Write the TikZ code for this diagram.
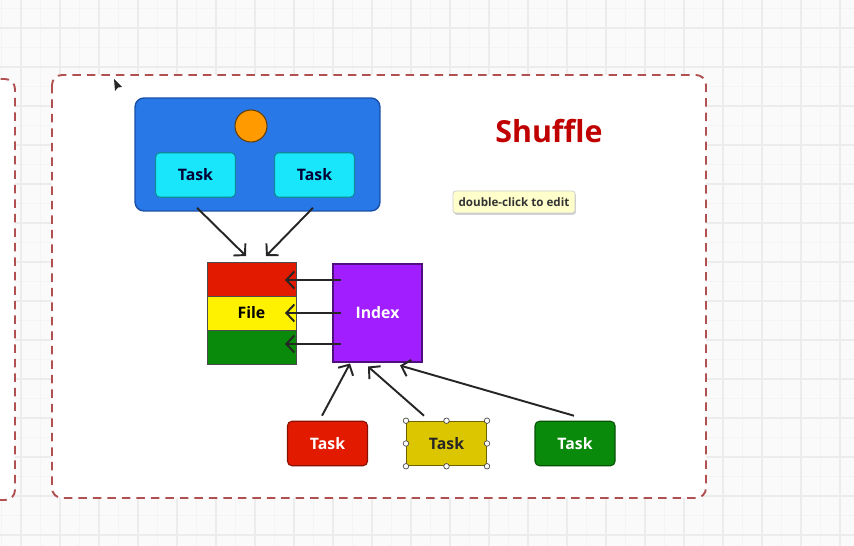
\documentclass[tikz,border=0pt]{standalone}
\usepackage{fontspec}
\setsansfont{Open Sans}
\usepackage{tikz}
\usetikzlibrary{positioning,arrows.meta,calc,shadows}

\definecolor{gridminor}{HTML}{F4F4F4}
\definecolor{gridmajor}{HTML}{ECECEC}
\definecolor{dashred}{HTML}{B05050}
\definecolor{boxblue}{HTML}{2878E8}
\definecolor{boxblueline}{HTML}{1A4FA8}
\definecolor{taskcyan}{HTML}{19E6FA}
\definecolor{taskcyanline}{HTML}{10899A}
\definecolor{dotorange}{HTML}{FF9A00}
\definecolor{partred}{HTML}{E21A00}
\definecolor{partyellow}{HTML}{FFF200}
\definecolor{taskyellow}{HTML}{DCC600}
\definecolor{partgreen}{HTML}{0A8A0A}
\definecolor{indexpurple}{HTML}{A01EFF}
\definecolor{titlered}{HTML}{C00000}
\definecolor{tipyellow}{HTML}{FFFFCC}

\tikzset{
  task/.style={draw, rounded corners=2.5pt, line width=0.6pt, minimum width=1.6cm,
               minimum height=0.89cm, font=\sffamily\bfseries\small, inner sep=0pt},
  filepart/.style={draw=black!70, line width=0.5pt, minimum width=1.78cm,
                   minimum height=0.68cm, inner sep=0pt, outer sep=0pt,
                   font=\sffamily\bfseries\small},
  conn/.style={draw=black!85, line width=1.1pt, -{Straight Barb[length=1.6mm,width=3.4mm]}},
  frame/.style={draw=dashred, line width=1.1pt, dash pattern=on 0.17cm off 0.12cm,
                rounded corners=0.2cm},
  handle/.style={circle, draw=black!70, fill=white, line width=0.4pt,
                 minimum size=0.11cm, inner sep=0pt}
}

\begin{document}
\begin{tikzpicture}[x=0.02cm, y=-0.02cm]
  \useasboundingbox (0,0) rectangle (854,546);
  % grid
  \fill[white!98!black] (0,0) rectangle (854,546);
  \foreach \gx in {1.5,21,...,854} \draw[gridminor, line width=0.4pt] (\gx,0) -- (\gx,546);
  \foreach \gy in {8.5,28,...,546} \draw[gridminor, line width=0.4pt] (0,\gy) -- (854,\gy);
  \foreach \gx in {21,60,...,854} \draw[gridmajor, line width=0.6pt] (\gx,0) -- (\gx,546);
  \foreach \gy in {28,67,...,546} \draw[gridmajor, line width=0.6pt] (0,\gy) -- (854,\gy);

  % frames
  \filldraw[frame, fill=white] (-30,79) rectangle (15,500);
  \filldraw[frame, fill=white] (52,75) rectangle (706,498);

  % cursor
  \fill[black!85] (114,79) -- (122,87) -- (118,87.5) -- (115,91) -- cycle;

  % worker box
  \node[draw=boxblueline, fill=boxblue, line width=0.8pt, rounded corners=0.18cm,
        minimum width=4.9cm, minimum height=2.26cm] (worker) at (257.5,154.5) {};
  \node[circle, draw=black!60!dotorange, fill=dotorange, line width=0.6pt,
        minimum size=0.64cm, inner sep=0pt] (dot) at (251,126) {};
  \node[task, draw=taskcyanline, fill=taskcyan, text=black!80!blue] (taskL) at (195.5,175) {Task};
  \node[task, draw=taskcyanline, fill=taskcyan, text=black!80!blue] (taskR) at (314.5,175) {Task};

  % file
  \node[filepart, fill=partred] (fileA) at (251.5,279) {};
  \node[filepart, fill=partyellow, below=0pt of fileA] (fileB) {File};
  \node[filepart, fill=partgreen, below=0pt of fileB] (fileC) {};

  % index
  \node[draw=black!50!indexpurple, fill=indexpurple, line width=0.6pt, minimum width=1.78cm,
        minimum height=1.96cm, text=white, font=\sffamily\bfseries\small] (index) at (377.5,313) {Index};

  % reduce tasks
  \node[task, draw=partred!60!black, fill=partred, text=white] (taskRed) at (327.5,443.5) {Task};
  \node[task, draw=taskyellow!50!black, fill=taskyellow, text=black!85, rounded corners=0pt] (taskYel) at (446.5,443.5) {Task};
  \node[task, draw=partgreen!60!black, fill=partgreen, text=white] (taskGrn) at (575,443.5) {Task};
  \foreach \anc in {north west,north,north east,east,south east,south,south west,west}
    \node[handle] at (taskYel.\anc) {};

  % title and tooltip
  \node[text=titlered, font=\sffamily\bfseries\LARGE] (title) at (549,131) {Shuffle};
  \node[draw=black!20, fill=tipyellow, rounded corners=1.5pt, minimum width=2.44cm,
        minimum height=0.44cm, inner sep=0pt, text=black!80,
        font=\sffamily\bfseries\fontsize{6.6}{7.5}\selectfont,
        drop shadow={shadow xshift=0.5pt, shadow yshift=-1pt, opacity=0.35}] (tip) at (514,202) {double-click to edit};

  % arrows
  \draw[conn] ($(taskL.south)+(1.5,10)$) -- ($(fileA.north)+(-5.5,-6)$);
  \draw[conn] ($(taskR.south)+(-1.5,10)$) -- ($(fileA.north)+(14.5,-6)$);
  \draw[conn] ($(index.west|-fileA)+(9,1)$) -- ($(fileA.east)+(-11,1)$);
  \draw[conn] ($(index.west|-fileB)+(9,0)$) -- ($(fileB.east)+(-11,0)$);
  \draw[conn] ($(index.west|-fileC)+(9,-3)$) -- ($(fileC.east)+(-11,-3)$);
  \draw[conn] ($(taskRed.north)+(-5.5,-5)$) -- ($(index.south)+(-27.5,1)$);
  \draw[conn] ($(taskYel.north)+(-22.5,-5)$) -- ($(index.south)+(-9.5,4)$);
  \draw[conn] ($(taskGrn.north)+(-1,-5)$) -- ($(index.south)+(22.5,3)$);
\end{tikzpicture}
\end{document}
